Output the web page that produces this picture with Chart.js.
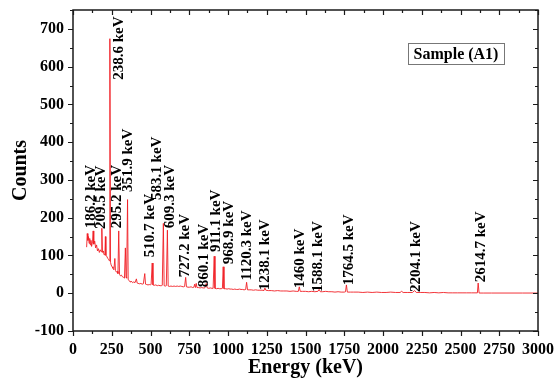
<!DOCTYPE html>
<html>
<head>
<meta charset="utf-8">
<script src="https://cdn.jsdelivr.net/npm/chart.js@4/dist/chart.umd.min.js"></script>
<style>
  html, body { margin: 0; padding: 0; background: #ffffff; }
  #wrap { width: 560px; height: 385px; }
</style>
</head>
<body>
<div id="wrap"><canvas id="c" width="560" height="385"></canvas></div>
<script>
// ---- data ----
// gamma spectrum: [energy keV, counts]
const spectrum = [
  [88,122],[92,158],[96,140],[100,150],[104,132],[108,145],[112,128],[116,140],[120,124],[126,136],
  [130,165],[134,130],[140,138],[146,120],[152,128],[158,112],[164,118],[170,108],[176,115],[182,110],
  [186,172],[190,108],[196,112],[200,102],[206,104],[209,150],[212,100],[218,98],[224,92],[230,90],
  [234,86],[238,674],[242,82],[246,75],[252,70],[258,66],[264,62],[270,92],[274,60],[280,56],
  [286,58],[290,52],[295,165],[300,50],[306,46],[312,48],[318,44],[326,42],[332,40],[338,120],
  [342,42],[346,40],[352,248],[356,36],[362,34],[368,30],[374,32],[380,30],[386,28],[392,30],
  [400,28],[409,38],[414,27],[420,26],[430,25],[438,26],[446,24],[454,25],[463,52],[468,24],
  [476,23],[484,22],[492,23],[500,22],[504,24],[511,80],[516,22],[524,21],[534,22],[544,20],
  [552,21],[562,20],[570,20],[576,21],[583,185],[588,20],[596,19],[602,20],[609,167],[614,19],
  [622,18],[632,19],[642,18],[652,19],[662,18],[672,19],[682,18],[692,19],[702,18],[712,17],
  [720,18],[727,42],[732,17],[742,16],[752,16],[762,17],[772,15],[780,16],[785,24],[790,15],
  [795,26],[800,15],[810,15],[820,14],[830,15],[840,14],[850,14],[860,26],[866,14],[876,13],
  [886,14],[896,13],[904,13],[911,98],[916,13],[926,12],[936,13],[946,12],[956,12],[964,13],
  [969,70],[974,12],[984,12],[994,11],[1004,12],[1014,11],[1024,11],[1034,10],[1044,11],[1054,10],
  [1064,10],[1074,11],[1084,10],[1094,10],[1104,9],[1114,10],[1120,29],[1126,9],[1136,9],[1150,9],
  [1164,8],[1178,9],[1192,8],[1206,8],[1220,8],[1232,7],[1238,14],[1244,8],[1260,7],[1280,7],
  [1300,6],[1320,7],[1340,6],[1360,6],[1380,6],[1400,5],[1420,6],[1440,5],[1454,5],[1460,17],
  [1466,5],[1480,5],[1500,5],[1520,4],[1540,5],[1560,4],[1580,5],[1588,10],[1596,4],[1610,4],
  [1630,5],[1650,4],[1670,4],[1690,3],[1710,4],[1730,3],[1750,3],[1758,4],[1764,22],[1770,3],
  [1790,3],[1810,3],[1840,3],[1870,2],[1900,3],[1930,2],[1960,3],[1990,2],[2020,2],[2050,3],
  [2080,2],[2110,2],[2120,5],[2130,2],[2160,2],[2190,2],[2204,7],[2215,2],[2240,2],[2270,2],
  [2300,1],[2330,2],[2360,1],[2390,2],[2420,1],[2450,1],[2480,1],[2510,1],[2540,1],[2570,1],
  [2600,1],[2609,1],[2614,27],[2620,0.5],[2650,0.5],[2700,0.5],[2800,0.5],[2900,0.5],[3000,0.5]
];

// peak annotations: text, energy where the label sits, counts at the label's lower end
const peakLabels  = ["186.2 keV","209.5 keV","238.6 keV","295.2 keV","351.9 keV","510.7 keV","583.1 keV","609.3 keV","727.2 keV","860.1 keV","911.1 keV","968.9 keV","1120.3 keV","1238.1 keV","1460 keV","1588.1 keV","1764.5 keV","2204.1 keV","2614.7 keV"];
const labelEnergy = [116, 181, 297, 284, 355, 497, 542, 626, 723, 845, 923, 1006, 1123, 1239, 1465, 1581, 1781, 2213, 2632];
const labelCounts = [172, 170, 565, 172, 268, 95, 247, 172, 42, 16, 109, 77, 34, 8, 13, 3, 21, 3, 29];

const xTicks = [0,250,500,750,1000,1250,1500,1750,2000,2250,2500,2750,3000];
const yTicks = [-100,0,100,200,300,400,500,600,700];
const sampleName = "Sample (A1)";
const xTitle = "Energy (keV)";
const yTitle = "Counts";

// ---- drawing ----
const SERIF = "'Liberation Serif', 'Times New Roman', serif";

function noScalePadding(scale) {
  scale.paddingLeft = 0; scale.paddingRight = 0;
  scale.paddingTop = 0; scale.paddingBottom = 0;
}

const framePlugin = {
  id: 'frame',
  afterDraw(chart) {
    const ctx = chart.ctx;
    const a = chart.chartArea;
    const xs = chart.scales.x, ys = chart.scales.y;
    ctx.save();
    ctx.strokeStyle = '#1a1a1a';
    ctx.lineWidth = 1.5;
    ctx.strokeRect(a.left, a.top, a.right - a.left, a.bottom - a.top);
    ctx.lineWidth = 1.2;
    ctx.beginPath();
    // x ticks: major every 250, minor every 125
    for (let v = xs.min; v <= xs.max + 1e-6; v += 125) {
      const px = Math.round(xs.getPixelForValue(v)) + 0.5;
      const len = (v % 250 === 0) ? 5 : 3;
      ctx.moveTo(px, a.bottom); ctx.lineTo(px, a.bottom + len);
      ctx.moveTo(px, a.top); ctx.lineTo(px, a.top + len);
    }
    // y ticks: major every 100, minor every 50
    for (let v = -100; v <= ys.max + 1e-6; v += 50) {
      const py = Math.round(ys.getPixelForValue(v)) + 0.5;
      const len = (v % 100 === 0) ? 5 : 3;
      ctx.moveTo(a.left, py); ctx.lineTo(a.left - len, py);
      ctx.moveTo(a.right, py); ctx.lineTo(a.right - len, py);
    }
    ctx.stroke();

    // peak labels
    ctx.fillStyle = '#000';
    ctx.font = "bold 15px " + SERIF;
    ctx.textAlign = 'left';
    ctx.textBaseline = 'middle';
    for (let i = 0; i < peakLabels.length; i++) {
      const px = xs.getPixelForValue(labelEnergy[i]);
      const py = ys.getPixelForValue(labelCounts[i]);
      ctx.save();
      ctx.translate(px, py);
      ctx.rotate(-Math.PI / 2);
      ctx.fillText(peakLabels[i], 0, 0);
      ctx.restore();
    }

    // sample box
    const bx = a.left + 335, by = a.top + 33, bw = 96, bh = 21;
    ctx.strokeStyle = '#777';
    ctx.lineWidth = 1;
    ctx.strokeRect(bx + 0.5, by + 0.5, bw, bh);
    ctx.font = "bold 16px " + SERIF;
    ctx.textAlign = 'center';
    ctx.fillText(sampleName, bx + bw / 2, by + bh / 2 + 1);
    ctx.restore();
  }
};

new Chart(document.getElementById('c'), {
  type: 'scatter',
  data: {
    datasets: [{
      data: spectrum.map(p => ({ x: p[0], y: p[1] })),
      showLine: true,
      borderColor: '#f01e24',
      borderWidth: 0.9,
      pointRadius: 0,
      tension: 0
    }]
  },
  options: {
    responsive: false,
    animation: false,
    devicePixelRatio: 1,
    layout: { padding: { left: 0, right: 22, top: 10, bottom: 0 } },
    plugins: { legend: { display: false }, tooltip: { enabled: false } },
    scales: {
      x: {
        type: 'linear',
        min: 0, max: 3000,
        afterBuildTicks(scale) { scale.ticks = xTicks.map(v => ({ value: v })); },
        afterFit(scale) { scale.height = 54; noScalePadding(scale); },
        grid: { display: false, drawTicks: false, tickLength: 0 },
        border: { display: false },
        ticks: {
          color: '#000', padding: 9, maxRotation: 0, autoSkip: false,
          callback: (v) => String(v),
          font: { family: SERIF, size: 16, weight: 'bold' }
        },
        title: {
          display: true, text: xTitle, color: '#000',
          font: { family: SERIF, size: 20, weight: 'bold' },
          padding: { top: 0, bottom: 5 }
        }
      },
      y: {
        type: 'linear',
        min: -100, max: 750,
        afterBuildTicks(scale) { scale.ticks = yTicks.map(v => ({ value: v })); },
        afterFit(scale) { scale.width = 73; noScalePadding(scale); },
        grid: { display: false, drawTicks: false, tickLength: 0 },
        border: { display: false },
        ticks: {
          color: '#000', padding: 9, autoSkip: false,
          callback: (v) => String(v),
          font: { family: SERIF, size: 16, weight: 'bold' }
        },
        title: {
          display: true, text: yTitle, color: '#000',
          font: { family: SERIF, size: 20, weight: 'bold' },
          padding: { top: 9, bottom: 0 }
        }
      }
    }
  },
  plugins: [framePlugin]
});
</script>
</body>
</html>
